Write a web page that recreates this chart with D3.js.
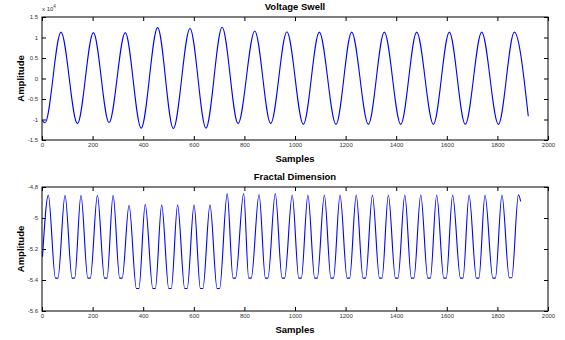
<!DOCTYPE html>
<html><head><meta charset="utf-8">
<script src="https://cdn.jsdelivr.net/npm/d3@7"></script>
<style>
body{margin:0;background:#fff;}
svg{display:block;font-family:"Liberation Sans",Arial,sans-serif;}
</style></head>
<body>
<svg id="c" width="565" height="340"></svg>
<script>
// ---- data ----
const xTicks = [0,200,400,600,800,1000,1200,1400,1600,1800,2000];
const xTickLabels = ["0","200","400","600","800","1000","1200","1400","1600","1800","2000"];

const vTicks = [-15000,-10000,-5000,0,5000,10000,15000];
const vTickLabels = ["-1.5","-1","-0.5","0","0.5","1","1.5"];
// Voltage swell: extremes (sample index, amplitude)
const vSamples = [1,12,75,140,203,265,329,392,457,519,585,648,712,775,841,904,968,1033,1096,1162,1224,1290,1353,1418,1481,1547,1610,1673,1738,1804,1867,1922];
const vValues  = [-10200,-10800,11300,-11000,11200,-10800,11200,-12100,12400,-12200,12200,-12100,12500,-11000,11600,-11000,11400,-11200,11300,-11200,11300,-11200,11300,-11200,11300,-11200,11300,-11200,11300,-11200,11300,-9200];

const fTicks = [-5.6,-5.4,-5.2,-5,-4.8];
const fTickLabels = ["-5.6","-5.4","-5.2","-5","-4.8"];
// Fractal dimension: peaks and flat trough edges (sample index, value)
const fSamples = [
  2, 25, 53,63, 91, 119,129, 154, 181,191, 219, 247,257, 281, 307,317,
  344, 373,383, 408, 438,448, 473, 501,511, 536, 564,574, 601, 626,636, 664, 692,702,
  732, 755,765, 797, 817,827, 858, 883,893, 922, 949,959, 989,
  1015,1025, 1051, 1078,1088, 1116, 1142,1152, 1178, 1206,1216, 1242, 1269,1279, 1306,
  1334,1344, 1369, 1397,1407, 1434, 1460,1470, 1497, 1525,1535, 1560, 1588,1598, 1623,
  1654,1664, 1688, 1717,1727, 1751, 1782,1792, 1818, 1847,1857, 1883, 1892];
const fValues = [
  -5.25, -4.853, -5.388,-5.388, -4.853, -5.388,-5.388, -4.853, -5.388,-5.388, -4.853, -5.388,-5.388, -4.853, -5.388,-5.388,
  -4.918, -5.455,-5.455, -4.912, -5.455,-5.455, -4.915, -5.455,-5.455, -4.915, -5.455,-5.455, -4.915, -5.455,-5.455, -4.915, -5.455,-5.455,
  -4.843, -5.388,-5.388, -4.842, -5.388,-5.388, -4.848, -5.388,-5.388, -4.842, -5.388,-5.388, -4.852,
  -5.388,-5.388, -4.852, -5.388,-5.388, -4.852, -5.388,-5.388, -4.852, -5.388,-5.388, -4.852, -5.388,-5.388, -4.852,
  -5.388,-5.388, -4.852, -5.388,-5.388, -4.852, -5.388,-5.388, -4.852, -5.388,-5.388, -4.852, -5.388,-5.388, -4.852,
  -5.388,-5.388, -4.852, -5.388,-5.388, -4.852, -5.388,-5.388, -4.852, -5.385,-5.385, -4.85, -4.893];

// ---- drawing ----
const svg = d3.select("#c");
const L = 42, R = 548;
const x = d3.scaleLinear().domain([0,2000]).range([L,R]);

function panel(top, bottom, yDomain, yTicks, yLabels, xs, ys, title, expo, curve){
  const y = d3.scaleLinear().domain(yDomain).range([bottom, top]);
  const g = svg.append("g");
  const data = xs.map((s,i)=>[s, ys[i]]);
  g.append("path").datum(data)
    .attr("fill","none").attr("stroke","#0000ff").attr("stroke-width",1.1)
    .attr("stroke-linejoin","round")
    .attr("d", d3.line().x(d=>x(d[0])).y(d=>y(d[1])).curve(curve));

  const tickStyle = sel => {
    sel.select(".domain").remove();
    sel.selectAll(".tick line").attr("stroke","#000");
    sel.selectAll(".tick text").attr("fill","#333").style("font-size","6px").attr("font-family","'Liberation Sans',Arial,sans-serif");
  };
  g.append("g").attr("transform",`translate(0,${bottom})`)
    .call(d3.axisBottom(x).tickValues(xTicks).tickFormat((d,i)=>xTickLabels[i]).tickSizeInner(-4).tickSizeOuter(0).tickPadding(3))
    .call(tickStyle);
  g.append("g").attr("transform",`translate(0,${top})`)
    .call(d3.axisTop(x).tickValues(xTicks).tickFormat("").tickSizeInner(-4).tickSizeOuter(0))
    .call(tickStyle);
  g.append("g").attr("transform",`translate(${L},0)`)
    .call(d3.axisLeft(y).tickValues(yTicks).tickFormat((d,i)=>yLabels[i]).tickSizeInner(-4).tickSizeOuter(0).tickPadding(4))
    .call(tickStyle);
  g.append("g").attr("transform",`translate(${R},0)`)
    .call(d3.axisRight(y).tickValues(yTicks).tickFormat("").tickSizeInner(-4).tickSizeOuter(0))
    .call(tickStyle);
  g.append("rect").attr("x",L).attr("y",top).attr("width",R-L).attr("height",bottom-top)
    .attr("fill","none").attr("stroke","#000").attr("stroke-width",1);

  g.append("text").attr("x",(L+R)/2).attr("y",top-7).attr("text-anchor","middle")
    .style("font-size","9.5px").style("font-weight","bold").text(title);
  g.append("text").attr("x",(L+R)/2).attr("y",bottom+22).attr("text-anchor","middle")
    .style("font-size","9.5px").style("font-weight","bold").text("Samples");
  g.append("text").attr("transform",`translate(24,${(top+bottom)/2}) rotate(-90)`).attr("text-anchor","middle")
    .style("font-size","9.5px").style("font-weight","bold").text("Amplitude");
  if(expo){
    const t = g.append("text").attr("x",L).attr("y",top-6).attr("fill","#333").style("font-size","6px");
    t.append("tspan").text("x 10");
    t.append("tspan").attr("dy",-3).style("font-size","4.5px").text(expo);
  }
}

panel(17, 140, [-15000,15000], vTicks, vTickLabels, vSamples, vValues, "Voltage Swell", "4", d3.curveMonotoneX);
panel(187, 311, [-5.6,-4.8], fTicks, fTickLabels, fSamples, fValues, "Fractal Dimension", null, d3.curveMonotoneX);
</script>
</body></html>
